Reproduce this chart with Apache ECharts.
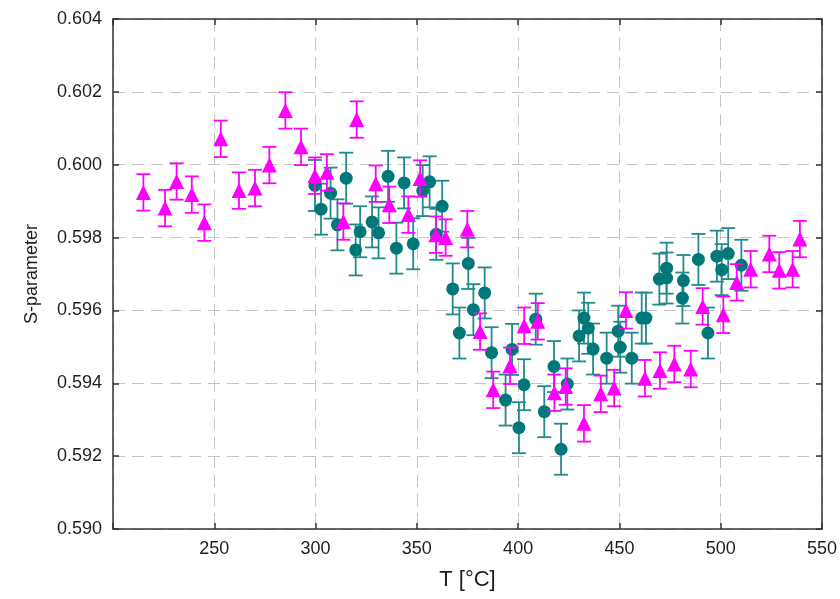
<!DOCTYPE html>
<html>
<head>
<meta charset="utf-8">
<script src="https://cdn.jsdelivr.net/npm/echarts@6/dist/echarts.min.js"></script>
<style>
  html, body { margin: 0; padding: 0; background: #ffffff; }
  #chart { width: 840px; height: 599px; }
</style>
</head>
<body>
<div id="chart"></div>
<script>
// Temperature (°C) and S-parameter for the triangle series
const triT = [215.0, 225.7, 231.4, 238.9, 245.1, 253.2, 262.2, 270.1, 277.2, 285.1,
  292.8, 299.7, 305.6, 313.7, 320.3, 329.7, 336.4, 345.8, 351.6, 359.4,
  364.2, 374.9, 381.2, 387.7, 396.0, 403.0, 409.7, 417.9, 423.5, 432.5,
  440.8, 447.4, 453.2, 462.6, 470.0, 477.1, 485.2, 491.1, 501.3, 507.9,
  514.8, 524.0, 528.9, 535.5, 539.1];
const triS = [0.59924, 0.59881, 0.59954, 0.59918, 0.59841, 0.60071, 0.59929, 0.59936, 0.59999, 0.60149,
  0.60049, 0.59970, 0.59979, 0.59844, 0.60124, 0.59948, 0.59890, 0.59863, 0.59962, 0.59808,
  0.59800, 0.59823, 0.59542, 0.59382, 0.59448, 0.59558, 0.59570, 0.59374, 0.59391, 0.59290,
  0.59371, 0.59387, 0.59600, 0.59414, 0.59435, 0.59453, 0.59439, 0.59611, 0.59588, 0.59677,
  0.59713, 0.59755, 0.59710, 0.59713, 0.59796];
const triErr = 0.0005;

// Temperature (°C) and S-parameter for the circle series
const circT = [299.7, 302.7, 307.4, 310.8, 315.1, 319.8, 322.0, 327.9, 331.1, 335.8,
  339.9, 343.7, 348.2, 352.9, 356.3, 359.6, 362.5, 367.7, 371.0, 375.4,
  377.9, 383.5, 386.9, 393.8, 397.0, 400.4, 402.9, 408.7, 412.9, 417.7,
  421.2, 424.3, 430.1, 432.5, 434.6, 437.0, 443.7, 449.4, 450.4, 456.1,
  461.0, 463.1, 469.7, 473.3, 473.3, 481.6, 481.1, 489.0, 493.7, 498.1,
  500.5, 503.7, 510.2];
const circS = [0.59943, 0.59878, 0.59922, 0.59835, 0.59963, 0.59766, 0.59816, 0.59843, 0.59813, 0.59968,
  0.59771, 0.59950, 0.59783, 0.59929, 0.59953, 0.59809, 0.59886, 0.59659, 0.59538, 0.59729,
  0.59602, 0.59648, 0.59484, 0.59354, 0.59493, 0.59278, 0.59396, 0.59576, 0.59322, 0.59446,
  0.59219, 0.59398, 0.59530, 0.59579, 0.59551, 0.59494, 0.59469, 0.59543, 0.59499, 0.59469,
  0.59579, 0.59579, 0.59686, 0.59716, 0.59689, 0.59682, 0.59634, 0.59740, 0.59538, 0.59749,
  0.59712, 0.59756, 0.59724];
const circErr = 0.0007;

// Axis ranges and ticks
const tMin = 200, tMax = 550, tStep = 50;
const sMin = 0.590, sMax = 0.604, sStep = 0.002;

const TEAL = '#00787a';
const TEAL_BAR = '#218a8a';
const MAGENTA = '#ff00ff';
const FONT = 'Liberation Sans, Arial, sans-serif';
const TEXT = '#1e1e1e';

function barData(ts, ss, err) {
  return ts.map((t, i) => [t, ss[i] - err, ss[i] + err]);
}
function pointData(ts, ss) {
  return ts.map((t, i) => [t, ss[i]]);
}

function errorBarRenderer(color, capHalf, width) {
  return function (params, api) {
    const x = api.value(0);
    const lo = api.coord([x, api.value(1)]);
    const hi = api.coord([x, api.value(2)]);
    const st = { stroke: color, lineWidth: width };
    return {
      type: 'group',
      children: [
        { type: 'line', shape: { x1: hi[0], y1: hi[1], x2: lo[0], y2: lo[1] }, style: st },
        { type: 'line', shape: { x1: hi[0] - capHalf, y1: hi[1], x2: hi[0] + capHalf, y2: hi[1] }, style: st },
        { type: 'line', shape: { x1: lo[0] - capHalf, y1: lo[1], x2: lo[0] + capHalf, y2: lo[1] }, style: st }
      ]
    };
  };
}

const frameLine = { show: true, lineStyle: { color: '#333333', width: 1.5 } };
const innerTick = { show: true, inside: true, length: 6, lineStyle: { color: '#333333', width: 1.5 } };
const gridDash = { show: true, lineStyle: { color: '#c4c4c4', width: 1, type: [12, 7] } };

const chart = echarts.init(document.getElementById('chart'), null, { renderer: 'canvas' });
chart.setOption({
  animation: false,
  backgroundColor: '#ffffff',
  grid: { left: 113, right: 18, top: 19, bottom: 70, containLabel: false },
  xAxis: [
    {
      type: 'value', min: tMin, max: tMax, interval: tStep,
      name: 'T [°C]', nameLocation: 'middle', nameGap: 40,
      nameTextStyle: { fontFamily: FONT, fontSize: 22, color: TEXT },
      axisLine: frameLine, axisTick: innerTick, splitLine: gridDash,
      axisLabel: {
        fontFamily: FONT, fontSize: 18, color: TEXT, margin: 11,
        formatter: v => (v === tMin ? '' : String(v))
      }
    },
    {
      type: 'value', position: 'top', min: tMin, max: tMax, interval: tStep,
      axisLine: frameLine, axisTick: innerTick, splitLine: { show: false },
      axisLabel: { show: false }
    }
  ],
  yAxis: [
    {
      type: 'value', min: sMin, max: sMax, interval: sStep,
      name: 'S-parameter', nameLocation: 'middle', nameGap: 72,
      nameTextStyle: { fontFamily: FONT, fontSize: 18, color: TEXT },
      axisLine: frameLine, axisTick: innerTick, splitLine: gridDash,
      axisLabel: {
        fontFamily: FONT, fontSize: 18, color: TEXT, margin: 11,
        formatter: v => v.toFixed(3)
      }
    },
    {
      type: 'value', position: 'right', min: sMin, max: sMax, interval: sStep,
      axisLine: frameLine, axisTick: innerTick, splitLine: { show: false },
      axisLabel: { show: false }
    }
  ],
  series: [
    {
      type: 'custom', name: 'circ-err', xAxisIndex: 0, yAxisIndex: 0,
      renderItem: errorBarRenderer(TEAL_BAR, 7, 1.8),
      encode: { x: 0, y: [1, 2] },
      data: barData(circT, circS, circErr), z: 2
    },
    {
      type: 'scatter', name: 'circles', xAxisIndex: 0, yAxisIndex: 0,
      symbol: 'circle', symbolSize: 13,
      itemStyle: { color: TEAL, opacity: 1 },
      data: pointData(circT, circS), z: 3
    },
    {
      type: 'custom', name: 'tri-err', xAxisIndex: 0, yAxisIndex: 0,
      renderItem: errorBarRenderer(MAGENTA, 7, 1.8),
      encode: { x: 0, y: [1, 2] },
      data: barData(triT, triS, triErr), z: 4
    },
    {
      type: 'scatter', name: 'triangles', xAxisIndex: 0, yAxisIndex: 0,
      symbol: 'triangle', symbolSize: 15,
      itemStyle: { color: MAGENTA, opacity: 1 },
      data: pointData(triT, triS), z: 5
    }
  ]
});
</script>
</body>
</html>
